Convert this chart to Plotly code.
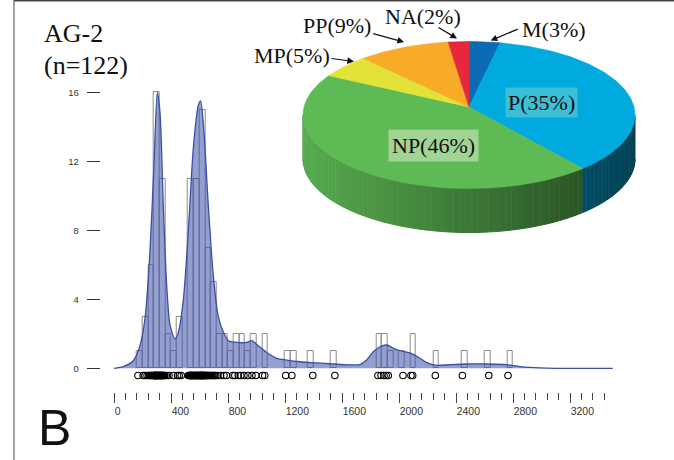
import numpy as np
import plotly.graph_objects as go

# ---------------- data ----------------
sample_name = "AG-2"
n_label = "(n=122)"
panel_label = "B"

ages = [
    168,
    205, 218, 232,
    244, 251, 258, 264, 270, 276,
    281, 283, 286, 288, 290, 292, 294, 296, 299, 301, 303, 306, 309, 312, 315, 318,
    321, 324, 327, 330, 333, 336, 340, 344, 348, 352, 357,
    368, 386,
    418,
    446, 458, 472,
    522, 526, 530, 534, 537, 540, 543, 547, 550, 554, 558,
    562, 566, 570, 573, 577, 580, 584, 587, 591, 594, 598,
    601, 603, 606, 608, 611, 613, 616, 618, 621, 624, 627, 630, 633, 636, 639,
    643, 648, 653, 659, 664, 670, 676,
    684, 692, 700, 707, 715,
    728, 748,
    772, 790,
    834,
    848, 872,
    890, 912,
    940,
    968, 995,
    1042, 1058,
    1205, 1248, 1395, 1550,
    1852, 1874, 1895, 1910, 1925,
    2028, 2084, 2096,
    2255, 2445, 2630, 2765,
]

kde_x = [0, 65, 135, 182, 217, 252, 281, 304, 323, 346, 370, 393, 428, 452, 487,
         522, 557, 592, 608, 632, 662, 697, 732, 767, 803, 861, 932, 967, 1013,
         1071, 1142, 1211, 1305, 1422, 1539, 1640, 1726, 1773, 1820, 1867, 1914,
         1961, 2007, 2077, 2136, 2194, 2264, 2357, 2474, 2614, 2755, 2849, 2989,
         3100, 3500]
kde_y = [0, 0.1, 0.44, 1.3, 2.85, 6.7, 11.9, 16.0, 14.8, 9.4, 4.8, 2.5, 1.7, 2.1, 4.0,
         8.0, 12.8, 15.25, 15.5, 13.6, 9.4, 5.35, 3.0, 2.1, 1.6, 1.5, 1.5, 1.6, 1.3,
         0.92, 0.58, 0.48, 0.38, 0.31, 0.25, 0.2, 0.22, 0.48, 0.96, 1.25, 1.35,
         1.16, 1.02, 0.9, 0.64, 0.33, 0.17, 0.21, 0.25, 0.25, 0.21, 0.1, 0.02,
         0, 0]

x_ticks = [0, 400, 800, 1200, 1600, 2000, 2400, 2800, 3200]
x_tick_labels = ["0", "400", "800", "1200", "1600", "2000", "2400", "2800", "3200"]
x_minor_ticks = [v for v in range(80, 3441, 80) if v % 400 != 0]
y_ticks = [0, 4, 8, 12, 16]
y_tick_labels = ["0", "4", "8", "12", "16"]

pie_labels = ["M", "P", "NP", "MP", "PP", "NA"]
pie_pct = [3, 35, 46, 5, 9, 2]
pie_colors = ["#0a6ab4", "#00aadf", "#5eba55", "#e3e236", "#f8aa29", "#e5283a"]

# ---------------- styling / geometry ----------------
W, H = 674, 460
X0_PX, XSCALE = 114.0, 0.1425          # px of value 0, px per unit
Y0_PX, YSCALE = 368.3, 17.25
AX_LEFT, AX_RIGHT, AX_TOP, AX_BOTTOM = 100.7, 620.0, 80.0, 391.5

x_range = [(AX_LEFT - X0_PX) / XSCALE, (AX_RIGHT - X0_PX) / XSCALE]
y_range = [(Y0_PX - AX_BOTTOM) / YSCALE, (Y0_PX - AX_TOP) / YSCALE]
rug_y = (Y0_PX - 375.5) / YSCALE

fig = go.Figure()

fig.add_trace(go.Histogram(
    x=ages, xbins=dict(start=0, end=3600, size=40),
    marker=dict(color="rgba(0,0,0,0)", line=dict(color="#8c8c8c", width=1)),
    xaxis="x", yaxis="y", hoverinfo="skip"))

fig.add_trace(go.Scatter(
    x=kde_x, y=kde_y, mode="lines",
    line=dict(color="#3a4ea6", width=1.3, shape="spline", smoothing=0.7),
    fill="tozeroy", fillcolor="rgba(60,80,170,0.55)",
    xaxis="x", yaxis="y", hoverinfo="skip"))

fig.add_trace(go.Scatter(
    x=ages, y=[rug_y] * len(ages), mode="markers",
    marker=dict(symbol="circle-open", size=6.5, color="black", line=dict(width=1.1)),
    xaxis="x", yaxis="y", hoverinfo="skip"))

# ---------------- 3D-looking pie (pixel coordinates in x2/y2) ----------------
cx, cy, ra, rb = 469.0, 115.0, 166.0, 73.5
apex_x, apex_y = 469.0, 107.0
depth = 44.0


def rim(th):
    t = np.radians(th)
    return cx + ra * np.cos(t), cy - rb * np.sin(t)


def shade(hexcol, f):
    h = hexcol.lstrip("#")
    r, g, b = (int(h[i:i + 2], 16) for i in (0, 2, 4))
    return "rgb(%d,%d,%d)" % (r * f, g * f, b * f)


pct = np.array(pie_pct, dtype=float)
starts = 90 - 3.6 * np.concatenate([[0], np.cumsum(pct)[:-1]])
ends = starts - 3.6 * pct

# side walls (front half only)
for s, e, col in zip(starts, ends, pie_colors):
    hi, lo = min(s, 0.0), max(e, -180.0)
    if hi <= lo:
        continue
    n = max(2, int((hi - lo) / 2.0))
    edges = np.linspace(hi, lo, n + 1)
    for i in range(n):
        th = np.linspace(edges[i], edges[i + 1], 4)
        x, y = rim(th)
        xs = list(x) + list(x[::-1])
        ys = list(y) + list((y + depth)[::-1])
        f = float(np.clip(0.92 - 0.47 * (x.mean() - 303) / 285, 0.3, 1.0))
        c = shade(col, f)
        fig.add_trace(go.Scatter(x=xs, y=ys, mode="lines", fill="toself",
                                 fillcolor=c, line=dict(color=c, width=1),
                                 xaxis="x2", yaxis="y2", hoverinfo="skip"))

# top face
for s, e, col in zip(starts, ends, pie_colors):
    th = np.linspace(s, e, max(4, int(abs(s - e))))
    x, y = rim(th)
    xs = [apex_x] + list(x) + [apex_x]
    ys = [apex_y] + list(y) + [apex_y]
    fig.add_trace(go.Scatter(x=xs, y=ys, mode="lines", fill="toself",
                             fillcolor=col, line=dict(color=col, width=0.6),
                             xaxis="x2", yaxis="y2", hoverinfo="skip"))

serif = "Liberation Serif, Times New Roman, serif"
ann = []
lab = {k: "%s(%d%%)" % (k, v) for k, v in zip(pie_labels, pie_pct)}

# labels inside the pie
ann.append(dict(x=541, y=102.5, text=lab["P"], showarrow=False, xref="x2", yref="y2",
                font=dict(family=serif, size=22, color="#111"),
                bgcolor="#3cbfd6", borderpad=2))
ann.append(dict(x=433, y=145, text=lab["NP"], showarrow=False, xref="x2", yref="y2",
                font=dict(family=serif, size=22, color="#111"),
                bgcolor="#a2d495", borderpad=3))

# outside labels with arrows
outside = [
    ("M", (554, 29), (490.7, 40.5), (519.3, 28.5)),
    ("NA", (423, 16.5), (457, 38.5), (437, 26.7)),
    ("PP", (337, 25.5), (404, 42), (371.7, 33.3)),
    ("MP", (292, 55.5), (354, 61.5), (330, 58.3)),
]
for key, (tx, ty), (hx, hy), (sx, sy) in outside:
    ann.append(dict(x=tx, y=ty, text=lab[key], showarrow=False, xref="x2", yref="y2",
                    font=dict(family=serif, size=22, color="#111")))
    ann.append(dict(x=hx, y=hy, ax=sx, ay=sy, text="", showarrow=True,
                    xref="x2", yref="y2", axref="x2", ayref="y2",
                    arrowhead=2, arrowsize=1.1, arrowwidth=1.2, arrowcolor="#111"))

# sample title and panel letter
ann.append(dict(x=42, y=33, text=sample_name, showarrow=False, xref="x2", yref="y2",
                xanchor="left", font=dict(family=serif, size=26, color="#111")))
ann.append(dict(x=42, y=65, text=n_label, showarrow=False, xref="x2", yref="y2",
                xanchor="left", font=dict(family=serif, size=26, color="#111")))
ann.append(dict(x=54, y=428, text=panel_label, showarrow=False, xref="x2", yref="y2",
                font=dict(family="Liberation Sans Narrow, Liberation Sans, sans-serif",
                          size=50, color="#111")))

shapes = [
    dict(type="line", xref="x2", yref="y2", x0=14, x1=674, y0=0.8, y1=0.8,
         line=dict(color="#444", width=1.5), layer="above"),
    dict(type="line", xref="x2", yref="y2", x0=14, x1=14, y0=0, y1=460,
         line=dict(color="#666", width=1.2), layer="above"),
]

fig.update_layout(
    width=W, height=H, margin=dict(l=0, r=0, t=0, b=0),
    paper_bgcolor="white", plot_bgcolor="rgba(0,0,0,0)",
    showlegend=False, bargap=0,
    annotations=ann, shapes=shapes,
    xaxis=dict(domain=[AX_LEFT / W, AX_RIGHT / W], range=x_range, anchor="y",
               showgrid=False, zeroline=False, showline=False,
               tickmode="array", tickvals=x_ticks, ticktext=x_tick_labels,
               ticks="outside", ticklen=10.5, tickwidth=1.3, tickcolor="#444",
               ticklabelposition="outside right", ticklabelstandoff=10,
               tickfont=dict(family="Liberation Sans, Arial, sans-serif", size=10.5, color="#333"),
               minor=dict(tickmode="array", tickvals=x_minor_ticks, ticks="outside",
                          ticklen=7, tickwidth=1, tickcolor="#444"),
               fixedrange=True, automargin=False),
    yaxis=dict(domain=[1 - AX_BOTTOM / H, 1 - AX_TOP / H], range=y_range, anchor="x",
               showgrid=False, zeroline=False, showline=False,
               tickmode="array", tickvals=y_ticks, ticktext=y_tick_labels,
               ticks="outside", ticklen=13, tickwidth=1.2, tickcolor="#333",
               ticklabelstandoff=6,
               tickfont=dict(family="Liberation Sans, Arial, sans-serif", size=9.5, color="#333"),
               fixedrange=True, automargin=False),
    xaxis2=dict(domain=[0, 1], range=[0, W], anchor="y2", visible=False, fixedrange=True),
    yaxis2=dict(domain=[0, 1], range=[H, 0], anchor="x2", visible=False, fixedrange=True),
)

fig.write_html("out.html")
